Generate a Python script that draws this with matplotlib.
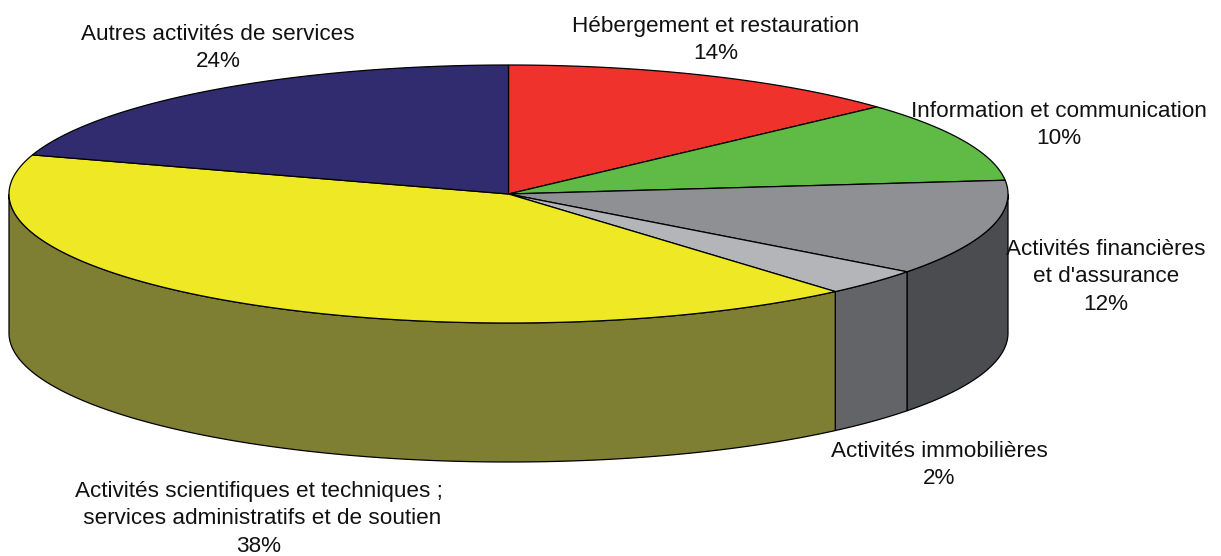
import numpy as np
import matplotlib
matplotlib.use("Agg")
import matplotlib.pyplot as plt
from matplotlib.patches import Polygon

plt.rcParams["font.family"] = ["Liberation Sans", "DejaVu Sans"]

# étiquettes et pourcentages affichés
labels = [
    "Hébergement et restauration",
    "Information et communication",
    "Activités financières\net d'assurance",
    "Activités immobilières",
    "Activités scientifiques et techniques ;\n services administratifs et de soutien",
    "Autres activités de services",
]
percents = [14, 10, 12, 2, 38, 24]
# parts (angles de la perspective, pas tout à fait les % affichés)
shares = [13.2, 10.1, 12.0, 3.35, 41.25, 20.1]
top_colors = ["#EF322B", "#5FBB46", "#8F9094", "#B3B5B8", "#EFE824", "#312C70"]
side_colors = ["#EF322B", "#5FBB46", "#4A4C50", "#636467", "#7E7F33", "#312C70"]
label_pos = [(716, 40), (1059, 125), (1106, 277), (939, 465), (259, 519), (218, 48)]

cx, cy = 508.5, 194
rx, ry = 499.5, 129
depth = 139


def ellipse(t, dy=0):
    return np.column_stack([cx + rx * np.sin(t), cy - ry * np.cos(t) + dy])


fig = plt.figure(figsize=(12.21, 5.56), dpi=100)
ax = fig.add_axes([0, 0, 1, 1])
ax.set_xlim(0, 1221)
ax.set_ylim(556, 0)
ax.axis("off")

edges = np.cumsum([0] + shares) / np.sum(shares) * 2 * np.pi

# flancs du cylindre
for i in range(len(shares)):
    a = max(edges[i], np.pi / 2)
    b = min(edges[i + 1], 3 * np.pi / 2)
    if a >= b:
        continue
    t = np.linspace(a, b, 200)
    pts = np.vstack([ellipse(t), ellipse(t[::-1], depth)])
    ax.add_patch(Polygon(pts, closed=True, fc=side_colors[i], ec="black", lw=0.9))

# dessus
for i in range(len(shares)):
    t = np.linspace(edges[i], edges[i + 1], 200)
    pts = np.vstack([[cx, cy], ellipse(t)])
    ax.add_patch(Polygon(pts, closed=True, fc=top_colors[i], ec="black", lw=0.9))

for lab, pct, (x, y) in zip(labels, percents, label_pos):
    ax.text(x, y, f"{lab}\n{pct}%", ha="center", va="center", fontsize=16.2,
            linespacing=1.41, color="#111111")

fig.savefig("out.png", dpi=100)
